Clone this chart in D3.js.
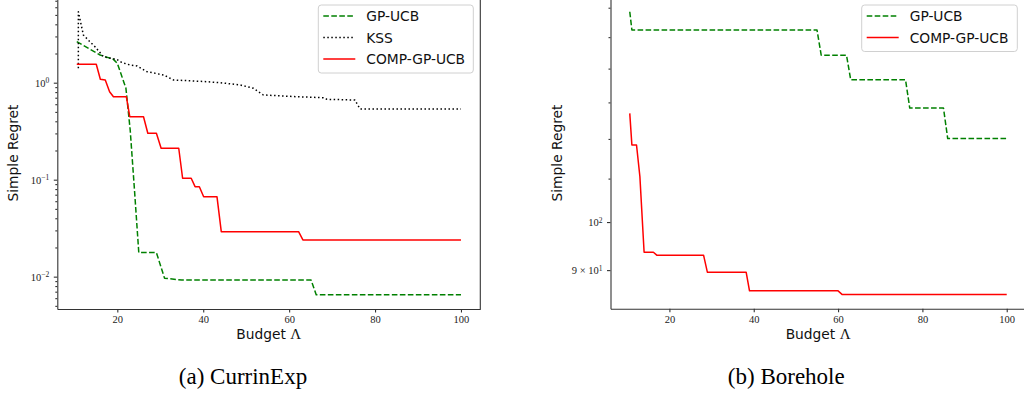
<!DOCTYPE html>
<html lang="en">
<head>
<meta charset="UTF-8">
<title>Simple regret vs budget</title>
<script src="https://d3js.org/d3.v7.min.js"></script>
<style>
  body { margin: 0; background: #fff; }
  svg { display: block; font-family: "DejaVu Sans", sans-serif; }
</style>
</head>
<body>
<svg id="chart" width="1024" height="402"></svg>
<script>
// (a) CurrinExp
const currinBudgetGP = [10.56, 16.0, 19.1, 20.0, 22.0, 23.0, 24.0, 25.0, 29.1, 31.0, 35.0, 65.1, 66.3, 100];
const currinRegretGP = [2.65, 1.93, 1.74, 1.585, 0.88, 0.325, 0.078, 0.0177, 0.0177, 0.00963, 0.00924, 0.00924, 0.00652, 0.00652];

const currinBudgetKSS = [10.93, 10.93, 12.1, 13.6, 14.8, 16.8, 19.9, 21.0, 23.0, 24.6, 26.9, 30.8, 33.1, 40.0, 44.0, 48.6, 51.7, 54.0, 61.8, 68.0, 68.8, 75.3, 76.5, 100];
const currinRegretKSS = [1.41, 5.4, 3.1, 2.65, 2.35, 1.85, 1.74, 1.62, 1.52, 1.49, 1.30, 1.20, 1.066, 1.03, 1.0, 0.947, 0.876, 0.747, 0.717, 0.70, 0.674, 0.663, 0.536, 0.536];

const currinBudgetComp = [10.56, 15.1, 16.05, 17.2, 18.2, 19.1, 22.1, 22.9, 26.1, 27.1, 29.1, 30.2, 34.3, 35.2, 37.2, 38.1, 39.1, 40.1, 43.2, 44.2, 62.2, 63.2, 100];
const currinRegretComp = [1.55, 1.55, 1.084, 1.066, 0.808, 0.717, 0.717, 0.446, 0.446, 0.301, 0.301, 0.211, 0.211, 0.1034, 0.1034, 0.0847, 0.0847, 0.0668, 0.0668, 0.0291, 0.0291, 0.0239, 0.0239];

// (b) Borehole
const boreBudgetGP = [10.6, 11.1, 55, 56, 62, 63, 76, 77, 85, 86, 100];
const boreRegretGP = [158.6, 152.4, 152.4, 144.2, 144.2, 136.6, 136.6, 128.4, 128.4, 120.1, 120.1];

const boreBudgetComp = [10.6, 11.1, 12.2, 13.0, 14.0, 16.2, 17.0, 28.1, 29.0, 38.2, 39.0, 60.0, 61.0, 100];
const boreRegretComp = [126.9, 118.4, 118.4, 110.5, 93.6, 93.6, 93.0, 93.0, 89.6, 89.6, 86.0, 86.0, 85.3, 85.3];

// ticks
const xTicks = [20, 40, 60, 80, 100];
const currinYTicks = [0.01, 0.1, 1];
const currinYLabels = [["10", "\u22122"], ["10", "\u22121"], ["10", "0"]];
const boreYTicks = [90, 100];
const boreYLabels = [["9 \u00d7 10", "1"], ["10", "2"]];

const svg = d3.select("#chart");
const serif = "'Liberation Serif', 'DejaVu Serif', serif";
const sans = "'DejaVu Sans', sans-serif";

function drawPanel(p) {
    const g = svg.append("g");
    const x = d3.scaleLinear().domain([6.03, 104.5]).range([p.left, p.right]);
    const y = d3.scaleLog().domain(p.yDomain).range([p.bottom, p.top]);

    const line = d3.line().x(d => x(d[0])).y(d => y(d[1]));

    p.series.forEach(s => {
        g.append("path")
            .datum(d3.zip(s.budget, s.regret))
            .attr("d", line)
            .attr("fill", "none")
            .attr("stroke", s.color)
            .attr("stroke-width", 1.5)
            .attr("stroke-dasharray", s.dash)
            .attr("stroke-linejoin", "round");
    });

    // x axis
    const xa = g.append("g")
        .attr("transform", `translate(0,${p.bottom})`)
        .call(d3.axisBottom(x).tickValues(xTicks).tickSize(3.5).tickSizeOuter(0).tickPadding(3.5));
    xa.selectAll("text").style("font-family", serif).style("font-size", "10.5px").attr("fill", "#222");

    // minor y ticks
    const minor = y.ticks().filter(v => !p.yTicks.includes(v) && Math.abs(Math.log10(v) - Math.round(Math.log10(v))) > 1e-9);
    g.append("g")
        .attr("transform", `translate(${p.left},0)`)
        .call(d3.axisLeft(y).tickValues(minor).tickSize(2).tickSizeOuter(0).tickFormat(""))
        .select(".domain").remove();

    // labelled y ticks
    const ya = g.append("g")
        .attr("transform", `translate(${p.left},0)`)
        .call(d3.axisLeft(y).tickValues(p.yTicks).tickSize(3.5).tickSizeOuter(0).tickPadding(4.5).tickFormat(""));
    ya.selectAll(".tick text").each(function (d, i) {
        const t = d3.select(this).style("font-family", serif).style("font-size", "10.5px").attr("fill", "#222");
        t.append("tspan").text(p.yLabels[i][0]);
        t.append("tspan").attr("dy", "-0.45em").style("font-size", "7.5px").text(p.yLabels[i][1]);
    });

    g.selectAll(".domain, .tick line").attr("stroke", "#333").attr("stroke-width", 1.1);

    // right spine
    g.append("line")
        .attr("x1", p.right).attr("x2", p.right)
        .attr("y1", p.top).attr("y2", p.bottom)
        .attr("stroke", "#333").attr("stroke-width", 1.1);

    // axis labels
    const mid = (p.left + p.right) / 2;
    const xl = g.append("text")
        .attr("x", mid).attr("y", 339)
        .attr("text-anchor", "middle")
        .style("font-family", sans)
        .style("font-size", "13.8px")
        .attr("fill", "#111");
    xl.append("tspan").text("Budget ");
    xl.append("tspan").style("font-family", serif).style("font-size", "15px").text("\u039b");

    g.append("text")
        .attr("transform", `translate(${p.yLabelX},153) rotate(-90)`)
        .attr("text-anchor", "middle")
        .style("font-family", sans)
        .style("font-size", "13.8px")
        .attr("fill", "#111")
        .text("Simple Regret");

    // legend
    const lg = g.append("g");
    lg.append("rect")
        .attr("x", p.legend.x).attr("y", 5)
        .attr("width", p.legend.w).attr("height", p.series.length * 21.5 + 3.5)
        .attr("rx", 3)
        .attr("fill", "#fff").attr("fill-opacity", 0.8)
        .attr("stroke", "#d0d0d0");
    p.series.forEach((s, i) => {
        const cy = 16 + i * 21.5;
        lg.append("line")
            .attr("x1", p.legend.x + 5).attr("x2", p.legend.x + 37)
            .attr("y1", cy).attr("y2", cy)
            .attr("stroke", s.color).attr("stroke-width", 1.5)
            .attr("stroke-dasharray", s.dash);
        lg.append("text")
            .attr("x", p.legend.x + 48).attr("y", cy + 5)
            .style("font-family", sans)
            .style("font-size", "13.8px").attr("fill", "#111")
            .text(s.name);
    });

    // caption
    svg.append("text")
        .attr("x", p.captionX).attr("y", 384)
        .attr("text-anchor", "middle")
        .style("font-family", serif)
        .style("font-size", "23px")
        .attr("fill", "#000")
        .text(p.caption);
}

drawPanel({
    left: 57.3, right: 480.3, top: -3, bottom: 309,
    yDomain: [0.00464, 7.65],
    yTicks: currinYTicks, yLabels: currinYLabels,
    yLabelX: 17.5,
    legend: { x: 318.3, w: 155 },
    captionX: 243, caption: "(a) CurrinExp",
    series: [
        { name: "GP-UCB", budget: currinBudgetGP, regret: currinRegretGP, color: "#008000", dash: "5.6,2.4" },
        { name: "KSS", budget: currinBudgetKSS, regret: currinRegretKSS, color: "#000000", dash: "1.5,2.5" },
        { name: "COMP-GP-UCB", budget: currinBudgetComp, regret: currinRegretComp, color: "#ff0000", dash: null }
    ]
});

drawPanel({
    left: 610.5, right: 1025.7, top: -3, bottom: 308.7,
    yDomain: [82.7, 163.8],
    yTicks: boreYTicks, yLabels: boreYLabels,
    yLabelX: 561.5,
    legend: { x: 861.7, w: 155.6 },
    captionX: 786.3, caption: "(b) Borehole",
    series: [
        { name: "GP-UCB", budget: boreBudgetGP, regret: boreRegretGP, color: "#008000", dash: "5.6,2.4" },
        { name: "COMP-GP-UCB", budget: boreBudgetComp, regret: boreRegretComp, color: "#ff0000", dash: null }
    ]
});
</script>
</body>
</html>
